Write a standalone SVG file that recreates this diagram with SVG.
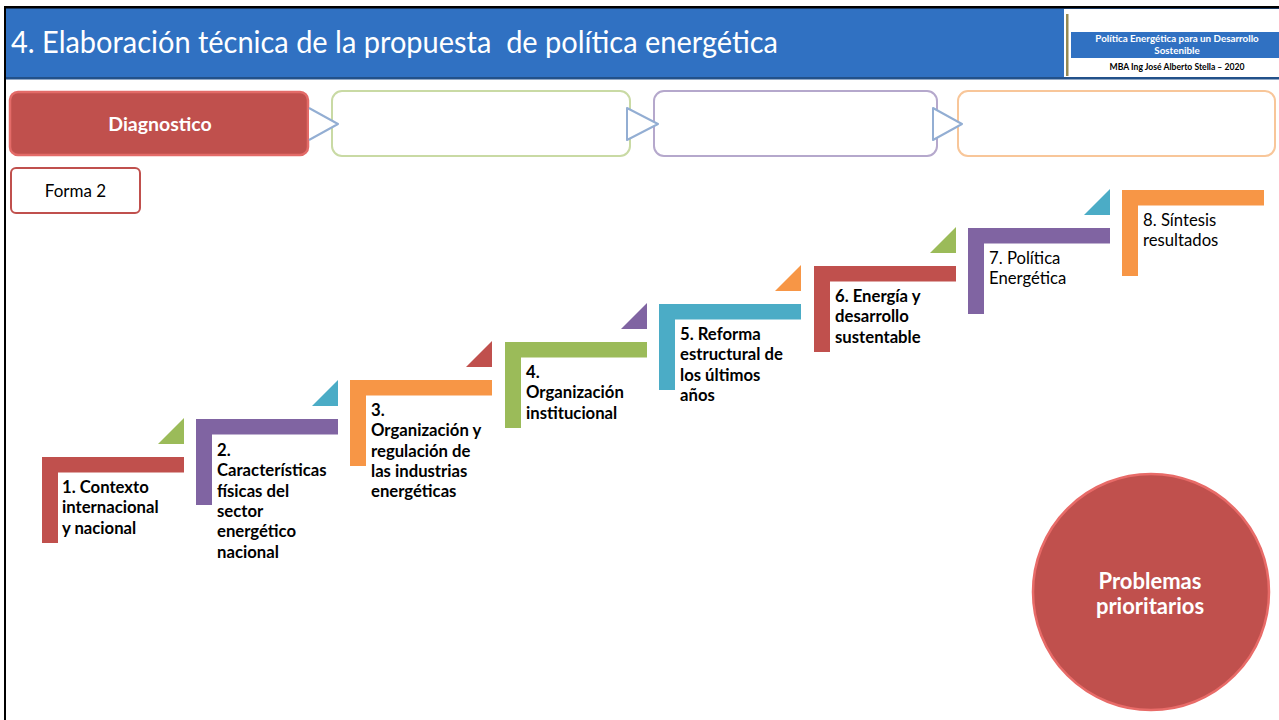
<svg xmlns="http://www.w3.org/2000/svg" width="1279" height="720" viewBox="0 0 1279 720">
<style>
.t{font-family:Lato,"Open Sans","Liberation Sans",sans-serif;}
.step{font-family:Lato,"Liberation Sans",sans-serif;font-size:16.7px;fill:#000;}
.b{font-weight:bold;}
.red{fill:#C0504D;}.pur{fill:#8064A2;}.org{fill:#F79646;}.grn{fill:#9BBB59;}.tea{fill:#4BACC6;}
.arr{fill:#fff;stroke:#93AED3;stroke-width:2;stroke-linejoin:round;}
.box{fill:#fff;stroke-width:2;}
</style>
<rect x="0" y="0" width="1279" height="720" fill="#fff"/>
<g id="header">
<rect x="4" y="6" width="1275" height="73" fill="#3071C2"/>
<rect x="4" y="6" width="1275" height="2.5" fill="#000"/>
<rect x="4" y="77" width="1275" height="2.5" fill="#22518A"/>
<text class="t" x="11" y="53" font-size="31" fill="#fff" textLength="767" lengthAdjust="spacingAndGlyphs" xml:space="preserve">4. Elaboración técnica de la propuesta  de política energética</text>
</g>
<g id="logo">
<rect x="1064" y="9" width="215" height="68" fill="#fff"/>
<rect x="1066" y="14" width="2.5" height="62" fill="#948A54"/>
<rect x="1071" y="32" width="208" height="26" fill="#3071C2"/>
<text class="t b" x="1177" y="42" font-size="9.8" fill="#fff" text-anchor="middle">Política Energética para un Desarrollo</text>
<text class="t b" x="1177" y="54" font-size="9.8" fill="#fff" text-anchor="middle">Sostenible</text>
<text class="t b" x="1177" y="70" font-size="8.6" fill="#000" text-anchor="middle">MBA Ing José Alberto Stella – 2020</text>
</g>
<rect x="4" y="6" width="2" height="714" fill="#000"/>
<g id="box-diagnostico">
<rect x="10" y="92" width="298" height="63" rx="8" fill="#C0504D" stroke="#E36B68" stroke-width="2.5"/>
<text class="t b" x="160" y="131" font-size="19.5" fill="#fff" text-anchor="middle">Diagnostico</text>
</g>
<g id="box-2"><rect class="box" x="332" y="91" width="298" height="65" rx="10" stroke="#C9DAA4"/></g>
<g id="box-3"><rect class="box" x="654" y="91" width="283" height="65" rx="10" stroke="#B5A8CC"/></g>
<g id="box-4"><rect class="box" x="958" y="91" width="317" height="65" rx="10" stroke="#F8C699"/></g>
<g id="connectors">
<path class="arr" d="M309 108 L338 124 L309 140"/>
<path class="arr" d="M627 108 L658 124 L627 140 Z"/>
<path class="arr" d="M933 108 L962 124 L933 140 Z"/>
</g>
<g id="forma-2">
<rect x="11" y="168" width="129" height="45" rx="5" fill="#fff" stroke="#C0504D" stroke-width="2"/>
<text class="t" x="75.5" y="197" font-size="17" fill="#000" text-anchor="middle">Forma 2</text>
</g>
<g id="step-1">
<path class="red" d="M42 457 h142 v15.5 h-126 v70.5 h-16 z"/>
<path class="grn" d="M184 418 V444 H158 z"/>
<text class="step b" x="62" y="493">1. Contexto<tspan x="62" dy="20.3">internacional</tspan><tspan x="62" dy="20.3">y nacional</tspan></text>
</g>
<g id="step-2">
<path class="pur" d="M196 419 h142 v15.5 h-126 v70.5 h-16 z"/>
<path class="tea" d="M338 380 V406 H312 z"/>
<text class="step b" x="217" y="456">2.<tspan x="217" dy="20.3">Características</tspan><tspan x="217" dy="20.3">físicas del</tspan><tspan x="217" dy="20.3">sector</tspan><tspan x="217" dy="20.3">energético</tspan><tspan x="217" dy="20.3">nacional</tspan></text>
</g>
<g id="step-3">
<path class="org" d="M350 380 h142 v15.5 h-126 v70.5 h-16 z"/>
<path class="red" d="M492 341 V367 H466 z"/>
<text class="step b" x="371" y="416">3.<tspan x="371" dy="20.3">Organización y</tspan><tspan x="371" dy="20.3">regulación de</tspan><tspan x="371" dy="20.3">las industrias</tspan><tspan x="371" dy="20.3">energéticas</tspan></text>
</g>
<g id="step-4">
<path class="grn" d="M505 342 h142 v15.5 h-126 v70.5 h-16 z"/>
<path class="pur" d="M647 303 V329 H621 z"/>
<text class="step b" x="526" y="378">4.<tspan x="526" dy="20.3">Organización</tspan><tspan x="526" dy="20.3">institucional</tspan></text>
</g>
<g id="step-5">
<path class="tea" d="M659 304 h142 v15.5 h-126 v70.5 h-16 z"/>
<path class="org" d="M801 265 V291 H775 z"/>
<text class="step b" x="680" y="340">5. Reforma<tspan x="680" dy="20.3">estructural de</tspan><tspan x="680" dy="20.3">los últimos</tspan><tspan x="680" dy="20.3">años</tspan></text>
</g>
<g id="step-6">
<path class="red" d="M814 266 h142 v15.5 h-126 v70.5 h-16 z"/>
<path class="grn" d="M956 227 V253 H930 z"/>
<text class="step b" x="835" y="302">6. Energía y<tspan x="835" dy="20.3">desarrollo</tspan><tspan x="835" dy="20.3">sustentable</tspan></text>
</g>
<g id="step-7">
<path class="pur" d="M968 228 h142 v15.5 h-126 v70.5 h-16 z"/>
<path class="tea" d="M1110 189 V215 H1084 z"/>
<text class="step" x="989" y="264">7. Política<tspan x="989" dy="20.3">Energética</tspan></text>
</g>
<g id="step-8">
<path class="org" d="M1122 190 h142 v15.5 h-126 v70.5 h-16 z"/>
<text class="step" x="1143" y="226">8. Síntesis<tspan x="1143" dy="20.3">resultados</tspan></text>
</g>
<g id="problemas">
<circle cx="1151" cy="592" r="118" fill="#C0504D" stroke="#E86B68" stroke-width="2.5"/>
<text class="t b" x="1150" y="589" font-size="22" fill="#fff" text-anchor="middle">Problemas</text>
<text class="t b" x="1150" y="614" font-size="22" fill="#fff" text-anchor="middle">prioritarios</text>
</g>
</svg>
